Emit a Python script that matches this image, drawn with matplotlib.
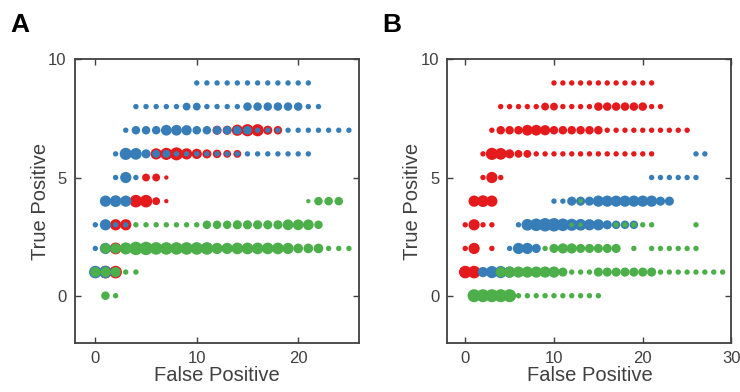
import matplotlib
matplotlib.use("Agg")
import matplotlib.pyplot as plt

# ---------------- data ----------------
# Series shared by panel A (blue) and panel B (red): x = false positives, y = true positives, n = count
shared_x = (list(range(10, 22)) +
            [4, 5, 6, 7, 8, 9, 10, 11, 12, 13, 14, 15, 16, 17, 18, 19, 20, 21, 22] +
            [3, 4, 5, 6, 7, 8, 9, 10, 11, 12, 13, 14, 15, 16, 17, 18, 19, 20, 21, 22, 23, 24, 25] +
            [2, 3, 4, 5, 6, 7, 8, 9, 10, 11, 12, 13, 14, 15, 16, 17, 18, 19, 20, 21] +
            [2, 3, 4] +
            [1, 2, 3] +
            [0, 1, 2, 3] +
            [0, 1, 3] +
            [0, 1])
shared_y = ([9] * 12 + [8] * 19 + [7] * 23 + [6] * 20 + [5] * 3 + [4] * 3 + [3] * 4 + [2] * 3 + [1] * 2)
shared_n = ([2] * 12 +
            [2, 2, 2, 2, 2, 5, 5, 2, 2, 2, 2, 6, 6, 6, 6, 6, 6, 2, 2] +
            [2, 6, 6, 6, 10, 10, 9, 6, 6, 6, 6, 6, 6, 2, 2, 2, 2, 2, 2, 2, 2, 2, 2] +
            [2, 13, 12, 7, 5, 5, 2, 2, 2, 2, 2, 2, 2, 2, 2, 2, 2, 2, 2, 2] +
            [2, 11, 2] +
            [11, 12, 11] +
            [2, 11, 2, 2] +
            [2, 11, 2] +
            [14, 14])

# Panel A, red series
a_red_x = [12, 13, 14, 15, 16, 17, 18,
           6, 7, 8, 9, 10, 11, 12, 13, 14,
           5, 6, 7,
           4, 5, 6, 7,
           2, 3,
           2,
           1, 2]
a_red_y = [7] * 7 + [6] * 9 + [5] * 3 + [4] * 4 + [3] * 2 + [2] + [1] * 2
a_red_n = [7, 7, 11, 13, 13, 7, 6,
           11, 13, 15, 11, 9, 7, 6, 5, 5,
           5, 5, 1,
           14, 14, 5, 1,
           11, 11,
           12,
           14, 14]

# Panel A, green series
a_green_x = ([21, 22, 23, 24] +
             [4, 5, 6, 7, 8, 9, 10, 11, 12, 13, 14, 15, 16, 17, 18, 19, 20, 21, 22] +
             [1, 2, 3, 4, 5, 6, 7, 8, 9, 10, 11, 12, 13, 14, 15, 16, 17, 18, 19, 20, 21, 22, 23, 24, 25] +
             [0, 1, 2, 3, 4] +
             [1, 2])
a_green_y = [4] * 4 + [3] * 19 + [2] * 25 + [1] * 5 + [0] * 2
a_green_n = ([1, 6, 6, 6] +
             [2, 2, 2, 2, 2, 2, 2, 6, 6, 6, 7, 7, 7, 7, 7, 10, 10, 10, 6] +
             [9, 9, 13, 16, 16, 14, 14, 14, 14, 14, 14, 11, 11, 12, 12, 12, 12, 12, 11, 8, 8, 8, 2, 2, 2] +
             [9, 9, 9, 2, 2] +
             [6, 2])

# Panel B, blue series
b_blue_x = ([26, 27] +
            [21, 22, 23, 24, 25, 26] +
            [10, 11, 12, 13, 14, 15, 16, 17, 18, 19, 20, 21, 22, 23] +
            [6, 7, 8, 9, 10, 11, 12, 13, 14, 15, 16, 17, 18, 19] +
            [5, 6, 7, 8] +
            [2, 3, 4, 5])
b_blue_y = [6] * 2 + [5] * 6 + [4] * 14 + [3] * 14 + [2] * 4 + [1] * 4
b_blue_n = ([2, 2] +
            [2, 2, 2, 2, 2, 2] +
            [2, 2, 7, 7, 7, 11, 11, 11, 11, 11, 11, 11, 7, 7] +
            [2, 12, 14, 16, 16, 14, 13, 12, 11, 11, 7, 6, 6, 6] +
            [2, 11, 11, 7] +
            [9, 13, 13, 11])

# Panel B, green series
b_green_x = ([13] +
             [12, 13, 17, 18, 19, 20, 21, 26] +
             [9, 10, 11, 12, 13, 14, 15, 16, 17, 19, 21, 22, 23, 24, 25, 26] +
             [4, 5, 6, 7, 8, 9, 10, 11, 12, 13, 14, 15, 16, 17, 18, 19, 20, 21,
              22, 23, 24, 25, 26, 27, 28, 29] +
             [1, 2, 3, 4, 5, 6, 7, 8, 9, 10, 11, 12, 13, 14, 15])
b_green_y = [4] + [3] * 8 + [2] * 16 + [1] * 26 + [0] * 15
b_green_n = ([1] +
             [1, 1, 2, 2, 2, 2, 2, 2] +
             [2, 7, 9, 9, 7, 7, 7, 7, 7, 2, 2, 2, 2, 2, 2, 2] +
             [9, 11, 11, 11, 11, 11, 11, 7, 2, 2, 2, 7, 7, 7, 7, 7, 7, 7,
              2, 2, 2, 2, 2, 2, 2, 2] +
             [15, 15, 15, 15, 15, 2, 2, 2, 2, 2, 2, 2, 2, 2, 2])

RED = "#E41A1C"
BLUE = "#377EB8"
GREEN = "#4DAF4A"
AX_COL = "#404040"

plt.rcParams["font.family"] = ["Liberation Sans", "DejaVu Sans"]

fig = plt.figure(figsize=(7.4, 3.92), dpi=100)
axA = fig.add_axes([0.1014, 0.125, 0.3838, 0.7237])
axB = fig.add_axes([0.6047, 0.125, 0.3838, 0.7237])


def size(ns):
    return [4.0 + 5.6 * v for v in ns]


def style(ax, xlim, xticks, label):
    ax.set_xlim(*xlim)
    ax.set_ylim(-2, 10)
    ax.set_xticks(xticks)
    ax.set_yticks([0, 5, 10])
    ax.tick_params(direction="in", length=4, width=1.0, colors=AX_COL,
                   labelsize=12, top=True, right=True, pad=6)
    for sp in ax.spines.values():
        sp.set_color(AX_COL)
        sp.set_linewidth(1.3)
    ax.set_xlabel("False Positive", fontsize=14.5, color=AX_COL, labelpad=0)
    ax.set_ylabel("True Positive", fontsize=14.5, color=AX_COL, labelpad=-1)
    ax.text(-0.228, 1.165, label, transform=ax.transAxes, fontsize=19,
            fontweight="bold", color="black", va="top", ha="left")


# Panel A
axA.scatter(a_red_x, a_red_y, s=size(a_red_n), c=RED, linewidths=0, zorder=2)
axA.scatter(shared_x, shared_y, s=size(shared_n), c=BLUE, linewidths=0, zorder=3)
axA.scatter(a_green_x, a_green_y, s=size(a_green_n), c=GREEN, linewidths=0, zorder=4)
style(axA, (-2, 26), [0, 10, 20], "A")

# Panel B
axB.scatter(shared_x, shared_y, s=size(shared_n), c=RED, linewidths=0, zorder=2)
axB.scatter(b_blue_x, b_blue_y, s=size(b_blue_n), c=BLUE, linewidths=0, zorder=3)
axB.scatter(b_green_x, b_green_y, s=size(b_green_n), c=GREEN, linewidths=0, zorder=4)
style(axB, (-2, 30), [0, 10, 20, 30], "B")

fig.savefig("out.png", dpi=100)
